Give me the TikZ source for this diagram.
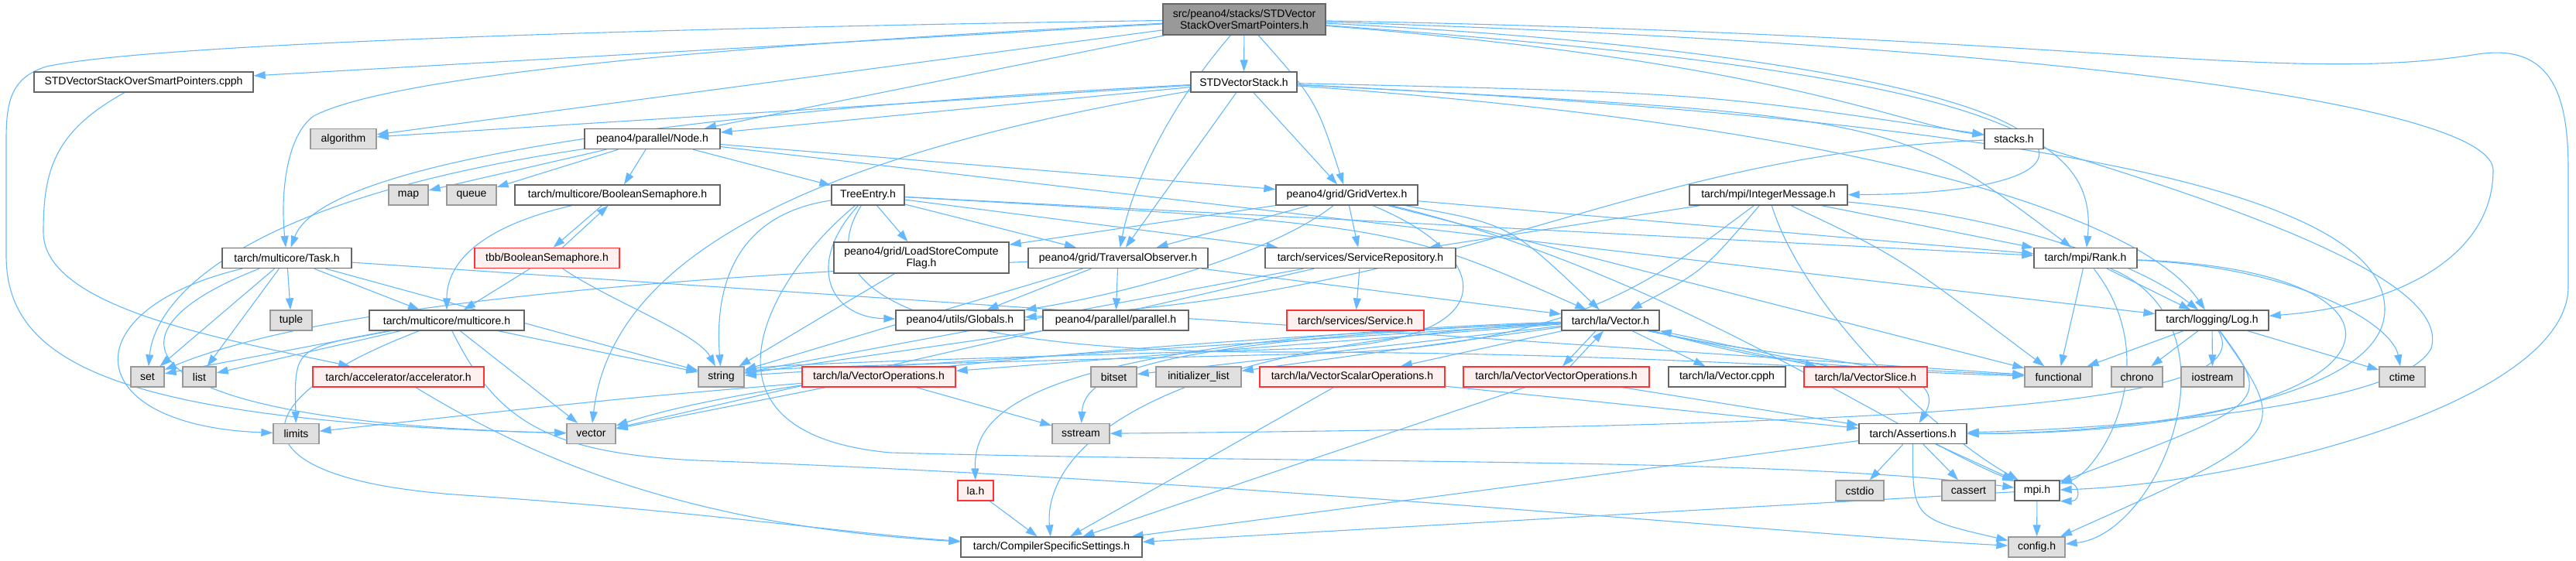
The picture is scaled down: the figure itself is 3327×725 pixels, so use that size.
\documentclass[tikz,border=0pt]{standalone}
\usepackage{fontspec}
\setmainfont{Liberation Sans}
\usetikzlibrary{arrows.meta}
\definecolor{edgeblue}{HTML}{63B8FF}
\definecolor{ndborder}{HTML}{666666}
\definecolor{grborder}{HTML}{999999}
\definecolor{grfill}{HTML}{E0E0E0}
\definecolor{rdborder}{HTML}{FF3333}
\definecolor{rdfill}{HTML}{FFF0F0}
\definecolor{topfill}{HTML}{999999}
\pgfdeclarelayer{bg}
\pgfsetlayers{bg,main}
\begin{document}
\begin{tikzpicture}[x=1pt,y=1pt,
  nd/.style={draw=ndborder, fill=white, line width=1.3pt, inner sep=0pt, minimum height=26pt,
    font=\fontsize{14}{15}\selectfont, align=center},
  gr/.style={nd, draw=grborder, fill=grfill},
  rd/.style={nd, draw=rdborder, fill=rdfill},
  e/.style={draw=edgeblue, line width=1.1pt, -{Triangle[length=15pt,width=10pt]}}]
\useasboundingbox (0,0) rectangle (3327,-725);
% row 0
\node[nd, fill=topfill, minimum width=210pt, minimum height=40pt] (top) at (1607,-25) {src/peano4/stacks/STDVector\\StackOverSmartPointers.h};
% row 1
\node[nd, minimum width=283pt] (cpph) at (185.5,-106) {STDVectorStackOverSmartPointers.cpph};
\node[nd, minimum width=137pt] (stdvs) at (1606.5,-106) {STDVectorStack.h};
% row 2
\node[gr, minimum width=85pt] (algorithm) at (443.5,-179.5) {algorithm};
\node[nd, minimum width=175pt] (node) at (842.5,-179.5) {peano4/parallel/Node.h};
\node[nd, minimum width=76pt] (stacks) at (2601,-179.5) {stacks.h};
% row 3
\node[gr, minimum width=51pt] (map) at (527.5,-252) {map};
\node[gr, minimum width=64pt] (queue) at (609,-252) {queue};
\node[nd, minimum width=265pt] (boolsem) at (797.5,-252) {tarch/multicore/BooleanSemaphore.h};
\node[nd, minimum width=94pt] (treeentry) at (1121,-252) {TreeEntry.h};
\node[nd, minimum width=183pt] (gridvertex) at (1739.5,-252) {peano4/grid/GridVertex.h};
\node[nd, minimum width=204pt] (intmsg) at (2284,-252) {tarch/mpi/IntegerMessage.h};
% row 4
\node[nd, minimum width=167pt] (task) at (370.5,-333.5) {tarch/multicore/Task.h};
\node[rd, minimum width=187pt] (tbb) at (706.5,-333.5) {tbb/BooleanSemaphore.h};
\node[nd, minimum width=226pt, minimum height=40pt] (lscf) at (1190,-333) {peano4/grid/LoadStoreCompute\\Flag.h};
\node[nd, minimum width=232pt] (trav) at (1444,-333.5) {peano4/grid/TraversalObserver.h};
\node[nd, minimum width=246pt] (sr) at (1757,-333.5) {tarch/services/ServiceRepository.h};
\node[nd, minimum width=133pt] (rank) at (2693.5,-333.5) {tarch/mpi/Rank.h};
% row 5
\node[gr, minimum width=54pt] (tuple) at (376,-414) {tuple};
\node[nd, minimum width=200pt] (multicore) at (577,-414) {tarch/multicore/multicore.h};
\node[nd, minimum width=166pt] (globals) at (1240,-414) {peano4/utils/Globals.h};
\node[nd, minimum width=188pt] (parallel) at (1441,-414) {peano4/parallel/parallel.h};
\node[rd, minimum width=177pt] (service) at (1750.5,-414) {tarch/services/Service.h};
\node[nd, minimum width=126pt] (lavector) at (2080,-414) {tarch/la/Vector.h};
\node[nd, minimum width=146pt] (log) at (2857,-414) {tarch/logging/Log.h};
% row 6
\node[gr, minimum width=43pt] (set) at (190.5,-487) {set};
\node[gr, minimum width=43pt] (list) at (257.5,-487) {list};
\node[rd, minimum width=221pt] (accel) at (514.5,-487) {tarch/accelerator/accelerator.h};
\node[gr, minimum width=59pt] (string) at (931.5,-487) {string};
\node[rd, minimum width=198pt] (vecops) at (1135,-487) {tarch/la/VectorOperations.h};
\node[gr, minimum width=59pt] (bitset) at (1438.5,-487) {bitset};
\node[gr, minimum width=110pt] (initlist) at (1548,-487) {initializer\_list};
\node[rd, minimum width=239pt] (vso) at (1746.5,-487) {tarch/la/VectorScalarOperations.h};
\node[rd, minimum width=240pt] (vvo) at (2010,-487) {tarch/la/VectorVectorOperations.h};
\node[nd, minimum width=151pt] (vcpph) at (2230.5,-487) {tarch/la/Vector.cpph};
\node[rd, minimum width=159pt] (vslice) at (2409.5,-487) {tarch/la/VectorSlice.h};
\node[gr, minimum width=87pt] (functional) at (2658.5,-487) {functional};
\node[gr, minimum width=66pt] (chrono) at (2760,-487) {chrono};
\node[gr, minimum width=81pt] (iostream) at (2857.5,-487) {iostream};
\node[gr, minimum width=59pt] (ctime) at (3102.5,-487) {ctime};
% row 7
\node[gr, minimum width=59pt] (limits) at (382.5,-560.5) {limits};
\node[gr, minimum width=63pt] (vector) at (763.5,-560.5) {vector};
\node[gr, minimum width=74pt] (sstream) at (1396,-560.5) {sstream};
\node[nd, minimum width=139pt] (assertions) at (2470.5,-560.5) {tarch/Assertions.h};
% row 8
\node[rd, minimum width=46pt] (lah) at (1260,-634) {la.h};
\node[gr, minimum width=62pt] (cstdio) at (2402,-634) {cstdio};
\node[gr, minimum width=69pt] (cassert) at (2542.5,-634) {cassert};
\node[nd, minimum width=58pt] (mpi) at (2631,-634) {mpi.h};
% row 9
\node[nd, minimum width=234pt] (css) at (1358,-707) {tarch/CompilerSpecificSettings.h};
\node[gr, minimum width=73pt] (config) at (2630.5,-707) {config.h};

\begin{pgfonlayer}{bg}
% top node
\draw[e] (top) -- (cpph);
\draw[e] (top) -- (stdvs);
\draw[e] (top) -- (algorithm);
\draw[e] (top) -- (node);
\draw[e] (top) .. controls (900,-60) and (500,-100) .. (405,-150) .. controls (370,-175) and (362,-250) .. (task);
\draw[e] (top) .. controls (1700,-130) .. (gridvertex);
\draw[e] (top) .. controls (1500,-150) and (1460,-250) .. (trav);
\draw[e] (top) .. controls (2300,-80) and (2450,-160) .. (stacks);
\draw[e] (top) .. controls (2570,-95) and (2710,-170) .. (rank);
\draw[e] (top) .. controls (2720,-80) and (2820,-250) .. (intmsg);
\draw[e] (top) .. controls (2700,-60) and (3220,-140) .. (3220,-220) .. controls (3220,-330) and (3100,-395) .. (log);
\draw[e] (top) .. controls (2700,-45) and (2950,-110) .. (3200,-70) .. controls (3300,-55) and (3317,-130) .. (3317,-220) -- (3317,-370) .. controls (3317,-520) and (2900,-625) .. (mpi);
\draw[e] (top) .. controls (900,-35) and (200,-55) .. (60,-86) .. controls (15,-100) and (8,-130) .. (8,-180) -- (8,-330) .. controls (8,-470) and (150,-545) .. (vector);
% STDVectorStack.h
\draw[e] (stdvs) -- (algorithm);
\draw[e] (stdvs) -- (node);
\draw[e] (stdvs) .. controls (950,-140) and (420,-200) .. (task);
\draw[e] (stdvs) -- (gridvertex);
\draw[e] (stdvs) -- (trav);
\draw[e] (stdvs) .. controls (1050,-200) and (790,-330) .. (vector);
\draw[e] (stdvs) .. controls (2200,-120) .. (stacks);
\draw[e] (stdvs) .. controls (2450,-150) .. (rank);
\draw[e] (stdvs) .. controls (2500,-170) and (2780,-300) .. (log);
\draw[e] (stdvs) .. controls (2700,-160) and (3080,-260) .. (3080,-400) .. controls (3080,-520) and (2750,-560) .. (assertions);
% stacks.h
\draw[e] (stacks) .. controls (2100,-200) and (1900,-380) .. (globals);
\draw[e] (stacks) .. controls (3000,-300) and (3160,-380) .. (3140,-450) .. controls (3100,-530) and (2700,-555) .. (assertions);
% Node.h
\draw[e] (node) -- (map);
\draw[e] (node) -- (queue);
\draw[e] (node) -- (boolsem);
\draw[e] (node) -- (treeentry);
\draw[e] (node) .. controls (300,-260) and (200,-390) .. (set);
\draw[e] (node) -- (gridvertex);
\draw[e] (node) -- (log);
% semaphores
\draw[e] ([xshift=-20pt]boolsem.south) -- ([xshift=8pt]tbb.north);
\draw[e] ([xshift=20pt]tbb.north) -- ([xshift=-12pt]boolsem.south);
\draw[e] (boolsem) .. controls (590,-300) and (577,-360) .. (multicore);
\draw[e] (tbb) -- (multicore);
\draw[e] (tbb) .. controls (790,-390) and (900,-430) .. (string);
% Task.h
\draw[e] (task) -- (set);
\draw[e] (task) -- (list);
\draw[e] (task) -- (tuple);
\draw[e] (task) -- (multicore);
\draw[e] (task) -- (string);
\draw[e] (task) -- (functional);
\draw[e] (task) .. controls (90,-400) and (100,-550) .. (limits);
\draw[e] (task) .. controls (120,-430) and (150,-545) .. (vector);
% cpph
\draw[e] (cpph) .. controls (70,-170) and (56,-220) .. (56,-300) .. controls (56,-400) and (300,-440) .. (accel);
% multicore.h
\draw[e] (multicore) -- (set);
\draw[e] (multicore) -- (list);
\draw[e] (multicore) .. controls (380,-450) .. (limits);
\draw[e] (multicore) -- (vector);
\draw[e] (multicore) -- (string);
\draw[e] (multicore) .. controls (300,-520) and (300,-620) .. (600,-640) .. controls (900,-660) and (1100,-690) .. (css);
\draw[e] (multicore) .. controls (640,-540) and (700,-585) .. (900,-595) .. controls (1600,-620) and (2300,-690) .. (config);
% accelerator
\draw[e] (accel) .. controls (700,-600) and (900,-680) .. (css);
% LoadStoreComputeFlag
\draw[e] (lscf) -- (string);
% TraversalObserver
\draw[e] (trav) .. controls (800,-360) and (400,-400) .. (set);
\draw[e] (trav) -- (globals);
\draw[e] (trav) -- (parallel);
\draw[e] (trav) -- (string);
\draw[e] (trav) -- (lavector);
% parallel
\draw[e] (parallel) -- (string);
% ServiceRepository
\draw[e] (sr) -- (service);
\draw[e] (sr) -- (string);
\draw[e] (sr) -- (vector);
% GridVertex
\draw[e] (gridvertex) -- (lscf);
\draw[e] (gridvertex) -- (trav);
\draw[e] (gridvertex) -- (sr);
\draw[e] (gridvertex) .. controls (1640,-330) and (1450,-380) .. (globals);
\draw[e] (gridvertex) .. controls (1950,-290) .. (lavector);
\draw[e] (gridvertex) -- (rank);
\draw[e] (gridvertex) .. controls (1930,-330) and (1950,-440) .. (1700,-450) .. controls (1300,-462) and (1000,-470) .. (string);
\draw[e] (gridvertex) -- (functional);
\draw[e] (gridvertex) .. controls (2150,-350) and (2450,-560) .. (mpi);
% TreeEntry
\draw[e] (treeentry) -- (lscf);
\draw[e] (treeentry) -- (trav);
\draw[e] (treeentry) -- (sr);
\draw[e] (treeentry) .. controls (1800,-290) .. (lavector);
\draw[e] (treeentry) -- (rank);
\draw[e] (treeentry) .. controls (930,-280) and (925,-400) .. (string);
\draw[e] (treeentry) .. controls (1040,-340) and (1070,-410) .. (globals);
\draw[e] (treeentry) .. controls (1040,-380) and (1200,-455) .. (1650,-455) .. controls (2100,-455) and (2400,-480) .. (functional);
\draw[e] (treeentry) .. controls (990,-360) and (880,-560) .. (1150,-585) .. controls (1700,-600) and (2300,-590) .. (mpi);
% IntegerMessage
\draw[e] (intmsg) -- (sr);
\draw[e] (intmsg) .. controls (2200,-350) .. (lavector);
\draw[e] (intmsg) -- (rank);
\draw[e] (intmsg) .. controls (2150,-350) and (2050,-448) .. (1700,-457) .. controls (1300,-467) and (1000,-475) .. (string);
\draw[e] (intmsg) .. controls (2450,-330) .. (functional);
\draw[e] (intmsg) .. controls (2330,-400) and (2500,-560) .. (mpi);
\draw[e] (intmsg) .. controls (2600,-280) and (2760,-340) .. (log);
% Rank
\draw[e] (rank) -- (functional);
\draw[e] (rank) -- (log);
\draw[e] (rank) .. controls (2970,-345) and (3090,-420) .. (ctime);
\draw[e] (rank) .. controls (3170,-350) and (3120,-560) .. (assertions);
\draw[e] (rank) .. controls (2800,-470) and (2710,-610) .. (mpi);
\draw[e] (rank) .. controls (2900,-420) and (2790,-690) .. (config);
% Log
\draw[e] (log) -- (functional);
\draw[e] (log) -- (chrono);
\draw[e] (log) -- (iostream);
\draw[e] (log) -- (ctime);
\draw[e] (log) .. controls (2920,-520) and (2550,-550) .. (sstream);
\draw[e] (log) .. controls (2935,-520) .. (mpi);
\draw[e] (log) .. controls (2960,-560) .. (config);
% Assertions
\draw[e] (assertions) -- (cstdio);
\draw[e] (assertions) -- (cassert);
\draw[e] (assertions) -- (mpi);
\draw[e] (assertions) .. controls (2470,-670) .. (config);
\draw[e] (assertions) -- (css);
% mpi
\draw[e] (mpi.north east) .. controls +(28,0) and +(28,0) .. (mpi.south east);
\draw[e] (mpi) -- (config);
\draw[e] (mpi) -- (css);
% Vector.h
\draw[e] (lavector) -- (string);
\draw[e] (lavector) -- (vecops);
\draw[e] (lavector) -- (bitset);
\draw[e] (lavector) -- (initlist);
\draw[e] (lavector) -- (vso);
\draw[e] ([xshift=-19pt]lavector.south) -- ([xshift=8pt]vvo.north);
\draw[e] ([xshift=18pt]vvo.north) -- ([xshift=-9pt]lavector.south);
\draw[e] (lavector) -- (vcpph);
\draw[e] ([xshift=48pt]lavector.south) -- ([xshift=-63pt]vslice.north);
\draw[e] ([xshift=-48pt]vslice.north) -- (lavector.south east);
\draw[e] (lavector) .. controls (2300,-470) .. (functional);
\draw[e] (lavector) .. controls (1500,-440) and (1400,-480) .. (sstream);
\draw[e] (lavector) .. controls (1300,-440) and (1258,-540) .. (lah);
\draw[e] (lavector) .. controls (1400,-450) and (1350,-620) .. (css);
\draw[e] (lavector) .. controls (2300,-470) and (2530,-460) .. (assertions);
\draw[e] (lavector) .. controls (1300,-450) and (950,-500) .. (vector);
% VectorOperations
\draw[e] (vecops) .. controls (800,-515) .. (limits);
\draw[e] (vecops) -- (vector);
\draw[e] (vecops) -- (sstream);
% VectorScalar / VectorVector
\draw[e] (vso) -- (assertions);
\draw[e] (vso) -- (css);
\draw[e] (vvo) -- (assertions);
\draw[e] (vvo) -- (css);
% la.h
\draw[e] (lah) -- (css);
\end{pgfonlayer}
\end{tikzpicture}
\end{document}
